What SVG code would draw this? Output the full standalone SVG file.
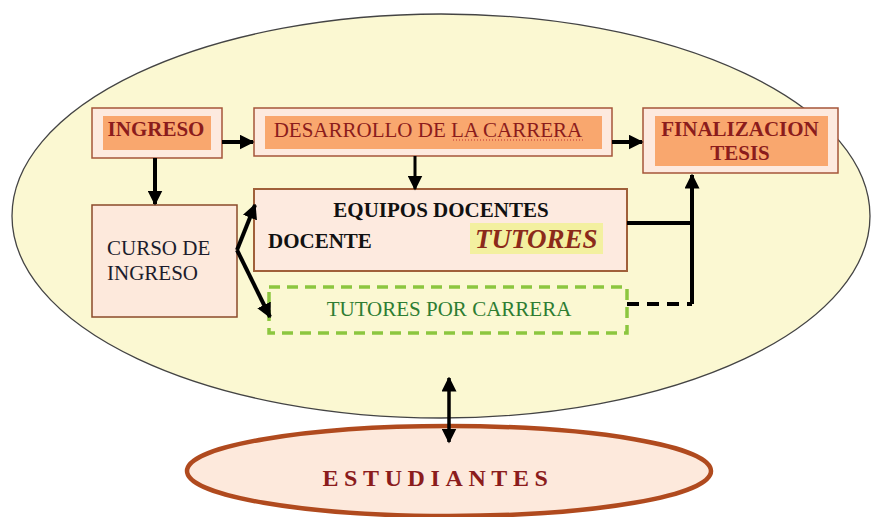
<svg xmlns="http://www.w3.org/2000/svg" width="877" height="517" viewBox="0 0 877 517">
<defs>
<style>
.t{font-family:"Liberation Serif","Times New Roman",serif;font-size:21px}
.red{fill:#8b1c1c}
.b{font-weight:bold}
.outer{fill:#fdeadf;stroke:#a5553a;stroke-width:1.5}
.inner{fill:#f9a76e}
.con{stroke:#000;stroke-width:4;fill:none}
</style>
<marker id="ah" viewBox="0 0 10 10" refX="9" refY="5" markerWidth="15" markerHeight="15" markerUnits="userSpaceOnUse" orient="auto-start-reverse">
<path d="M0,0 L10,5 L0,10 Z" fill="#000"/>
</marker>
</defs>
<rect width="877" height="517" fill="#ffffff"/>
<g id="contexto">
<ellipse cx="441" cy="216" rx="429" ry="202" fill="#fbf8d2" stroke="#444" stroke-width="1.3"/>
</g>
<g id="estudiantes">
<ellipse cx="449" cy="471" rx="262" ry="45" fill="#fde9dc" stroke="#b04a1e" stroke-width="4.5"/>
<text class="t b red" x="438" y="486" text-anchor="middle" style="font-size:24px;letter-spacing:5.6px">ESTUDIANTES</text>
</g>
<g id="ingreso">
<rect class="outer" x="92" y="108" width="130" height="50"/>
<rect class="inner" x="103" y="116" width="108" height="34"/>
<text class="t b red" x="156" y="136" text-anchor="middle">INGRESO</text>
</g>
<g id="desarrollo">
<rect class="outer" x="254" y="108" width="358" height="48"/>
<rect class="inner" x="265" y="116" width="337" height="33"/>
<text class="t red" x="428" y="137" text-anchor="middle">DESARROLLO DE LA CARRERA</text>
<line x1="453" y1="140" x2="585" y2="140" stroke="#c03030" stroke-width="1" stroke-dasharray="1 2"/>
</g>
<g id="finalizacion">
<rect class="outer" x="643" y="108" width="195" height="65"/>
<rect class="inner" x="655" y="116" width="173" height="50"/>
<text class="t b red" x="740" y="136" text-anchor="middle">FINALIZACION</text>
<text class="t b red" x="740" y="160" text-anchor="middle">TESIS</text>
</g>
<g id="curso">
<rect x="92" y="205" width="145" height="112" fill="#fde9dc" stroke="#8b4a2a" stroke-width="1.5"/>
<text class="t" x="107" y="255" fill="#1c1c2c">CURSO DE</text>
<text class="t" x="107" y="280" fill="#1c1c2c">INGRESO</text>
</g>
<g id="equipos">
<rect x="254" y="189" width="373" height="82" fill="#fdeadf" stroke="#a0603a" stroke-width="2"/>
<text class="t b" x="441" y="217" text-anchor="middle" fill="#111">EQUIPOS DOCENTES</text>
<text class="t b" x="268" y="248" fill="#111">DOCENTE</text>
<rect x="470" y="223" width="133" height="31" fill="#f3f0a0"/>
<text class="t b" x="475" y="248" fill="#8b2a1a" style="font-size:27px;font-style:italic">TUTORES</text>
</g>
<g id="tutores-carrera">
<rect x="269" y="287" width="358" height="46" fill="none" stroke="#8cc63f" stroke-width="3.5" stroke-dasharray="11 7"/>
<text class="t" x="449" y="316" text-anchor="middle" fill="#2e7d32">TUTORES POR CARRERA</text>
</g>
<g id="conectores">
<line class="con" x1="222" y1="142" x2="253" y2="142" marker-end="url(#ah)"/>
<line class="con" x1="612" y1="142" x2="642" y2="142" marker-end="url(#ah)"/>
<line class="con" x1="155" y1="158" x2="155" y2="204" marker-end="url(#ah)"/>
<line class="con" x1="415" y1="156" x2="415" y2="189" style="stroke-width:3" marker-end="url(#ah)"/>
<line class="con" x1="237" y1="250" x2="255" y2="205" marker-end="url(#ah)"/>
<line class="con" x1="237" y1="250" x2="270" y2="317" marker-end="url(#ah)"/>
<line class="con" x1="627" y1="223" x2="692" y2="223"/>
<line class="con" x1="692" y1="304" x2="692" y2="175" marker-end="url(#ah)"/>
<line class="con" x1="627" y1="304" x2="692" y2="304" stroke-dasharray="12 8"/>
<line class="con" x1="449" y1="378" x2="449" y2="442" marker-start="url(#ah)" marker-end="url(#ah)" style="stroke-width:3.5"/>
</g>
</svg>
